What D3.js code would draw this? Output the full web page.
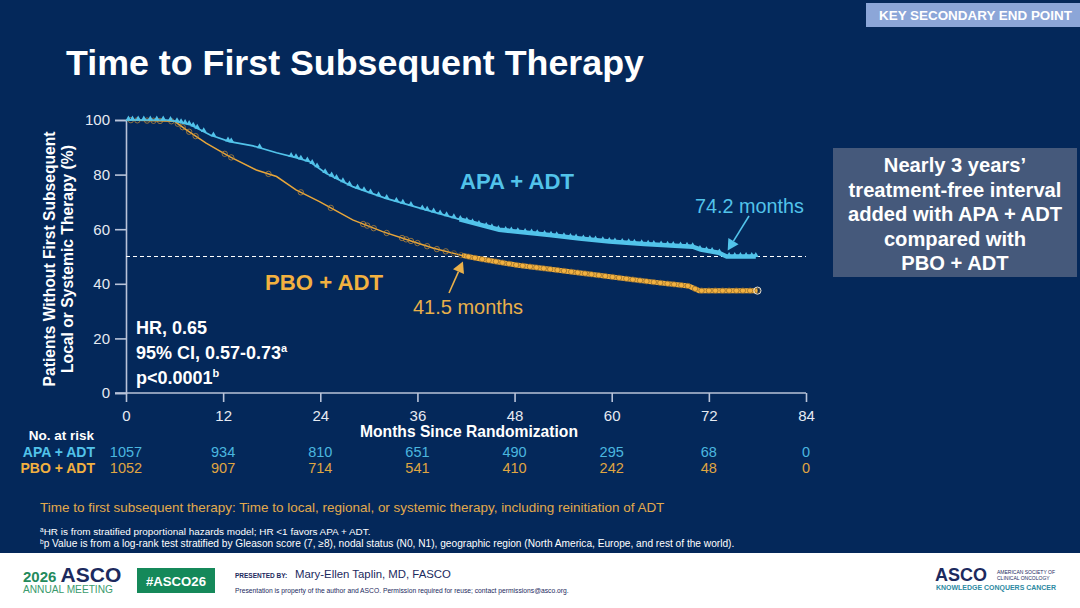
<!DOCTYPE html>
<html><head><meta charset="utf-8">
<script src="https://cdn.jsdelivr.net/npm/d3@7"></script>
<style>html,body{margin:0;padding:0;background:#04285a;}svg{display:block;}</style>
</head><body>
<svg id="c" width="1080" height="608"></svg>
<script>
// ---------- DATA ----------
const xTicks = [0, 12, 24, 36, 48, 60, 72, 84];
const yTicks = [0, 20, 40, 60, 80, 100];
const seriesNames = ["APA + ADT", "PBO + ADT"];
const apaMonths = [0, 5, 6, 8, 10.4, 12.8, 15.7, 18.6, 21, 22.7, 24.7, 28, 32.1, 36.3, 41.2, 46.1, 52.3, 56, 59.7, 64, 70, 71, 73.2, 74.2, 77.8];
const apaPct    = [100, 100, 99.6, 98.2, 94.5, 92.1, 90.5, 88.0, 86.2, 84.7, 80.5, 75.6, 71.3, 67.7, 63.6, 59.8, 57.9, 56.6, 55.5, 54.6, 53.6, 52.5, 51.4, 50.0, 50.0];
const pboMonths = [0, 6, 7.5, 9.9, 12.8, 16.1, 18.6, 21, 23.9, 28, 31.7, 35.4, 38, 41.5, 44, 48.2, 56.4, 64.6, 69.5, 70.8, 78];
const pboPct    = [100, 99.5, 96.3, 91.5, 86.6, 81.7, 79.3, 74.4, 70.1, 63.4, 59.1, 55.5, 53, 50.4, 49, 46.9, 43.9, 40.8, 39.2, 37.5, 37.5];
const apaCensor = [0.3, 0.8, 1.5, 2.2, 3, 3.8, 4.6, 5.5, 6.3, 6.8, 7.3, 7.8, 8.3, 8.8, 9.6, 10.8, 12.6, 13, 16.5, 20.4, 21, 21.6, 22.4, 23, 23.6, 24.6, 25.4, 26, 26.8, 27.6, 28.6, 29.4, 30.2, 31.2, 32.2, 33.4, 34.2, 35.2, 36.6, 37.2, 38, 38.8, 39.6,
  40.5, 41.3, 42.1, 42.8, 43.6, 44.5, 45.2, 46, 46.9, 47.6, 48.4, 49.3, 50.1, 50.8, 51.7, 52.5, 53.2, 54.1, 54.9, 55.6, 56.5, 57.3, 58, 58.9, 59.7, 60.4, 61.3, 62.1, 62.8, 63.7, 64.5, 65.2, 66.1, 66.9, 67.6, 68.5, 69.3, 70, 70.9, 71.7, 72.4, 73.3, 74.5, 75.2, 75.9, 76.6, 77.3, 77.8];
const pboCensor = [0.6, 1.4, 2.6, 3.4, 4.2, 5.6, 6.4, 7, 7.8, 8.6, 12.2, 13, 17.6, 21.6, 25.3, 29.3, 29.8, 30.6, 32.2, 34.1, 34.6, 35.2, 36, 37.2, 38.4, 39.5, 40.5,
  41.4, 42.3, 43.1, 44, 44.8, 45.7, 46.5, 47.3, 48.2, 49, 49.9, 50.7, 51.6, 52.4, 53.3, 54.1, 55, 55.8, 56.7, 57.5, 58.4, 59.2, 60.1, 60.9, 61.8, 62.6, 63.5, 64.3, 65.2, 66, 66.9, 67.7, 68.6, 69.4, 70.3, 71.1, 72, 72.8, 73.7, 74.5, 75.4, 76.2, 77.1, 78];
const atRiskMonths = [0, 12, 24, 36, 48, 60, 72, 84];
const apaAtRisk = [1057, 934, 810, 651, 490, 295, 68, 0];
const pboAtRisk = [1052, 907, 714, 541, 410, 242, 48, 0];
const medianLine = 50;
const apaMedian = 74.2, pboMedian = 41.5;
const hrLines = ["HR, 0.65", "95% CI, 0.57-0.73", "p<0.0001"];
const hrSups = ["", "a", "b"];
const boxLines = ["Nearly 3 years\u2019", "treatment-free interval", "added with APA + ADT", "compared with", "PBO + ADT"];

// ---------- STYLE ----------
const BG = "#04285a", CYAN = "#52c3ea", ORANGE = "#f2b140", AXIS = "#b9c3d9", TXT = "#e6eaf2";
const FONT = "'Liberation Sans', Arial, sans-serif";
const NARROW = "'Liberation Sans Narrow', 'Liberation Sans', Arial, sans-serif";

const svg = d3.select("#c");
svg.append("rect").attr("width", 1080).attr("height", 608).attr("fill", BG);

function fit(sel, w) {
  const L = sel.node().getComputedTextLength();
  const fs = parseFloat(sel.attr("font-size"));
  if (L > 0) sel.attr("font-size", (fs * w / L).toFixed(2));
  return sel;
}

// top-right tag
svg.append("rect").attr("x", 866).attr("y", 3).attr("width", 214).attr("height", 24).attr("fill", "#8ca6d8");
fit(svg.append("text").attr("x", 879).attr("y", 20).attr("font-family", FONT).attr("font-weight", "bold")
  .attr("font-size", 12.5).attr("fill", "#ffffff").text("KEY SECONDARY END POINT"), 193);

// title
fit(svg.append("text").attr("x", 66).attr("y", 75).attr("font-family", FONT).attr("font-weight", "bold")
  .attr("font-size", 34).attr("fill", "#ffffff").text("Time to First Subsequent Therapy"), 578);

// ---------- SCALES ----------
const x = d3.scaleLinear().domain([0, 84]).range([126, 806]);
const y = d3.scaleLinear().domain([0, 100]).range([393, 120]);

const g = svg.append("g");

// axes
const yAxis = g.append("g").attr("transform", "translate(126,0)")
  .call(d3.axisLeft(y).tickValues(yTicks).tickSize(11).tickPadding(5));
const xAxis = g.append("g").attr("transform", "translate(0,393)")
  .call(d3.axisBottom(x).tickValues(xTicks).tickSize(9).tickPadding(8));
[yAxis, xAxis].forEach(a => {
  a.select(".domain").attr("stroke", AXIS).attr("stroke-width", 1.6);
  a.selectAll(".tick line").attr("stroke", AXIS).attr("stroke-width", 1.6);
  a.selectAll(".tick text").attr("fill", TXT).attr("font-family", FONT).attr("font-size", 15);
});
xAxis.select(".domain").attr("d", "M115,0H806");

// axis titles
const yt = g.append("text").attr("transform", "translate(55,259) rotate(-90)").attr("text-anchor", "middle")
  .attr("font-family", FONT).attr("font-weight", "bold").attr("font-size", 15).attr("fill", "#ffffff")
  .text("Patients Without First Subsequent");
fit(yt, 255);
const yt2 = g.append("text").attr("transform", "translate(73,259) rotate(-90)").attr("text-anchor", "middle")
  .attr("font-family", FONT).attr("font-weight", "bold").attr("font-size", 15).attr("fill", "#ffffff")
  .text("Local or Systemic Therapy (%)");
fit(yt2, 228);
fit(g.append("text").attr("x", 469).attr("y", 437).attr("text-anchor", "middle").attr("font-family", FONT)
  .attr("font-weight", "bold").attr("font-size", 15).attr("fill", "#ffffff").text("Months Since Randomization"), 218);

// median dashed line
g.append("line").attr("x1", x(0)).attr("x2", x(84)).attr("y1", y(medianLine)).attr("y2", y(medianLine))
  .attr("stroke", "#ffffff").attr("stroke-width", 1.2).attr("stroke-dasharray", "4,3");

// ---------- CURVES ----------
const line = d3.line().x(d => x(d[0])).y(d => y(d[1])).curve(d3.curveLinear);
const apa = apaMonths.map((m, i) => [m, apaPct[i]]);
const pbo = pboMonths.map((m, i) => [m, pboPct[i]]);
const interp = (ms, ps) => t => {
  const i = d3.bisectRight(ms, t);
  if (i <= 0) return ps[0];
  if (i >= ms.length) return ps[ps.length - 1];
  const f = (t - ms[i - 1]) / (ms[i] - ms[i - 1]);
  return ps[i - 1] + f * (ps[i] - ps[i - 1]);
};
const apaAt = interp(apaMonths, apaPct), pboAt = interp(pboMonths, pboPct);

// PBO
g.append("path").datum(pbo).attr("d", line).attr("fill", "none").attr("stroke", "#e8a63a").attr("stroke-width", 1.5);
g.append("path").datum(pbo.filter(d => d[0] >= 40)).attr("d", line).attr("fill", "none")
  .attr("stroke", ORANGE).attr("stroke-width", 5);
g.selectAll(".pc").data(pboCensor).join("circle").attr("class", "pc")
  .attr("cx", d => x(d)).attr("cy", d => y(pboAt(d))).attr("r", 2.7)
  .attr("fill", "none").attr("stroke", d => d < 40 ? "#c98f35" : "#8a6428").attr("stroke-width", 0.7);
g.append("circle").attr("cx", x(78)).attr("cy", y(pboAt(78))).attr("r", 3.6).attr("fill", "none")
  .attr("stroke", "#e8e0d0").attr("stroke-width", 1);

// APA
g.append("path").datum(apa).attr("d", line).attr("fill", "none").attr("stroke", CYAN).attr("stroke-width", 1.7);
g.append("path").datum(apa.filter(d => d[0] >= 41)).attr("d", line).attr("fill", "none")
  .attr("stroke", CYAN).attr("stroke-width", 4.5);
const tri = d3.symbol().type(d3.symbolTriangle).size(14);
g.selectAll(".ac").data(apaCensor).join("path").attr("class", "ac")
  .attr("transform", d => `translate(${x(d)},${y(apaAt(d)) - 1.2})`).attr("d", tri).attr("fill", CYAN);

// ---------- ANNOTATIONS ----------
fit(g.append("text").attr("x", 460).attr("y", 189).attr("font-family", FONT).attr("font-weight", "bold")
  .attr("font-size", 22).attr("fill", CYAN).text(seriesNames[0]), 114);
fit(g.append("text").attr("x", 265).attr("y", 290).attr("font-family", FONT).attr("font-weight", "bold")
  .attr("font-size", 22).attr("fill", ORANGE).text(seriesNames[1]), 118);
fit(g.append("text").attr("x", 695).attr("y", 213).attr("font-family", FONT)
  .attr("font-size", 19).attr("fill", CYAN).text(apaMedian.toFixed(1) + " months"), 109);
fit(g.append("text").attr("x", 413).attr("y", 314).attr("font-family", FONT)
  .attr("font-size", 19).attr("fill", "#e9b04a").text(pboMedian.toFixed(1) + " months"), 110);

function arrow(x1, y1, x2, y2, col) {
  const ang = Math.atan2(y2 - y1, x2 - x1), L = 11, W = 6;
  const bx = x2 - L * Math.cos(ang), by = y2 - L * Math.sin(ang);
  g.append("line").attr("x1", x1).attr("y1", y1).attr("x2", bx).attr("y2", by).attr("stroke", col).attr("stroke-width", 1.6);
  const px = -Math.sin(ang) * W, py = Math.cos(ang) * W;
  g.append("path").attr("d", `M${x2},${y2}L${bx + px},${by + py}L${bx - px},${by - py}Z`).attr("fill", col);
}
arrow(749, 216, x(apaMedian) + 1, y(medianLine) - 6, CYAN);
arrow(449, 293, x(pboMedian) + 1, y(medianLine) + 5, "#e9b04a");

// HR block
hrLines.forEach((t, i) => {
  const tx = g.append("text").attr("x", 136).attr("y", 334 + i * 25).attr("font-family", FONT)
    .attr("font-weight", "bold").attr("font-size", 18).attr("fill", "#ffffff");
  tx.append("tspan").text(t);
  if (hrSups[i]) tx.append("tspan").attr("font-size", 11).attr("dy", -7).text(hrSups[i]);
});

// ---------- AT RISK TABLE ----------
g.append("text").attr("x", 94).attr("y", 440).attr("text-anchor", "end").attr("font-family", FONT)
  .attr("font-weight", "bold").attr("font-size", 13.5).attr("fill", "#ffffff").text("No. at risk");
[[apaAtRisk, CYAN, 457], [pboAtRisk, ORANGE, 473]].forEach(([vals, col, yy], k) => {
  g.append("text").attr("x", 95).attr("y", yy).attr("text-anchor", "end").attr("font-family", FONT)
    .attr("font-weight", "bold").attr("font-size", 14).attr("fill", col).text(seriesNames[k]);
  g.selectAll(null).data(vals).join("text").attr("x", (d, i) => x(atRiskMonths[i])).attr("y", yy)
    .attr("text-anchor", "middle").attr("font-family", NARROW).attr("font-size", 14.5)
    .attr("fill", col).attr("opacity", 0.92).text(d => d);
});

// footnotes
fit(g.append("text").attr("x", 40).attr("y", 512).attr("font-family", FONT).attr("font-size", 13)
  .attr("fill", "#e2aa4c").text("Time to first subsequent therapy: Time to local, regional, or systemic therapy, including reinitiation of ADT"), 625);
const f1 = g.append("text").attr("x", 40).attr("y", 535).attr("font-family", FONT).attr("font-size", 10).attr("fill", "#ffffff");
f1.append("tspan").attr("font-size", 6.5).attr("dy", -3).text("a");
f1.append("tspan").attr("dy", 3).text("HR is from stratified proportional hazards model; HR <1 favors APA + ADT.");
fit(f1, 331);
const f2 = g.append("text").attr("x", 40).attr("y", 547).attr("font-family", FONT).attr("font-size", 10).attr("fill", "#ffffff");
f2.append("tspan").attr("font-size", 6.5).attr("dy", -3).text("b");
f2.append("tspan").attr("dy", 3).text("p Value is from a log-rank test stratified by Gleason score (7, \u22658), nodal status (N0, N1), geographic region (North America, Europe, and rest of the world).");
fit(f2, 695);

// ---------- RIGHT BOX ----------
svg.append("rect").attr("x", 833).attr("y", 148).attr("width", 244).attr("height", 129).attr("fill", "#45597b");
const probe = svg.append("text").attr("font-family", FONT).attr("font-weight", "bold").attr("font-size", 19).text(boxLines[1]);
fit(probe, 213); const boxFs = parseFloat(probe.attr("font-size")); probe.remove();
boxLines.forEach((t, i) => {
  svg.append("text").attr("x", 955).attr("y", 172 + i * 24.5).attr("text-anchor", "middle")
    .attr("font-family", FONT).attr("font-weight", "bold").attr("font-size", boxFs).attr("fill", "#ffffff").text(t);
});

// ---------- FOOTER ----------
svg.append("rect").attr("x", 0).attr("y", 553).attr("width", 1080).attr("height", 55).attr("fill", "#ffffff");
const lg = svg.append("text").attr("x", 23).attr("y", 582).attr("font-family", FONT).attr("font-weight", "bold");
lg.append("tspan").attr("font-size", 15).attr("fill", "#248a5c").text("2026 ");
lg.append("tspan").attr("font-size", 21).attr("fill", "#1c2a5e").text("ASCO");
fit(lg, 91);
fit(svg.append("text").attr("x", 23).attr("y", 593).attr("font-family", FONT).attr("font-size", 10.5)
  .attr("fill", "#3a9a6c").text("ANNUAL MEETING"), 90);
svg.append("rect").attr("x", 137).attr("y", 568).attr("width", 78).attr("height", 25).attr("fill", "#15895a");
fit(svg.append("text").attr("x", 176).attr("y", 586).attr("text-anchor", "middle").attr("font-family", FONT)
  .attr("font-weight", "bold").attr("font-size", 14).attr("fill", "#ffffff").text("#ASCO26"), 60);
svg.append("text").attr("x", 235).attr("y", 578).attr("font-family", FONT).attr("font-weight", "bold")
  .attr("font-size", 6.5).attr("fill", "#1c2a5e").text("PRESENTED BY:");
fit(svg.append("text").attr("x", 295).attr("y", 578).attr("font-family", FONT).attr("font-size", 12)
  .attr("fill", "#1c2a5e").text("Mary-Ellen Taplin, MD, FASCO"), 156);
fit(svg.append("text").attr("x", 235).attr("y", 593).attr("font-family", FONT).attr("font-size", 6)
  .attr("fill", "#1c2a5e").text("Presentation is property of the author and ASCO. Permission required for reuse; contact permissions@asco.org."), 334);
fit(svg.append("text").attr("x", 935).attr("y", 581).attr("font-family", FONT).attr("font-weight", "bold")
  .attr("font-size", 18).attr("fill", "#1c2a5e").text("ASCO"), 52);
svg.append("text").attr("x", 997).attr("y", 574).attr("font-family", FONT).attr("font-size", 5).attr("fill", "#1c2a5e").text("AMERICAN SOCIETY OF");
svg.append("text").attr("x", 997).attr("y", 580).attr("font-family", FONT).attr("font-size", 5).attr("fill", "#1c2a5e").text("CLINICAL ONCOLOGY");
fit(svg.append("text").attr("x", 936).attr("y", 590).attr("font-family", FONT).attr("font-weight", "bold")
  .attr("font-size", 7).attr("fill", "#2d8aa2").text("KNOWLEDGE CONQUERS CANCER"), 120);
</script>
</body></html>
